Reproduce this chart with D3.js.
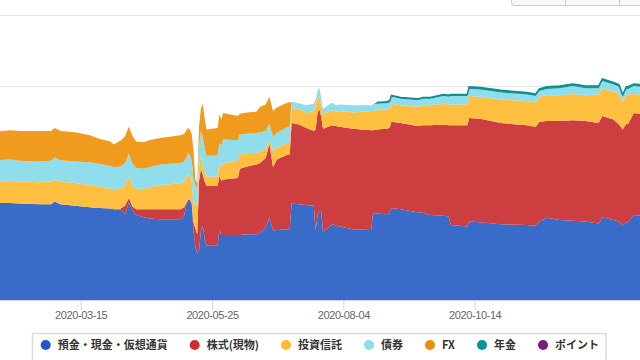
<!DOCTYPE html>
<html><head><meta charset="utf-8">
<script src="https://cdn.jsdelivr.net/npm/d3@7"></script>
<style>body{margin:0;background:#fff;overflow:hidden}svg{display:block}</style>
</head><body><svg id="c" width="640" height="360"></svg>
<script>
// ---- data (values in 万円) ----
const dates = ["2020-01-30","2020-02-06","2020-02-11","2020-02-22","2020-02-28","2020-03-01","2020-03-04","2020-03-12","2020-03-20","2020-03-25",
"2020-03-31","2020-04-02","2020-04-05","2020-04-06","2020-04-08","2020-04-10","2020-04-12","2020-04-14","2020-04-18","2020-04-21",
"2020-04-27","2020-05-02","2020-05-08","2020-05-10","2020-05-11","2020-05-12","2020-05-13","2020-05-14","2020-05-15","2020-05-16",
"2020-05-17","2020-05-18","2020-05-19","2020-05-20","2020-05-21","2020-05-22","2020-05-28","2020-05-29","2020-05-30","2020-05-31",
"2020-06-08","2020-06-09","2020-06-13","2020-06-18","2020-06-20","2020-06-23","2020-06-25","2020-06-27","2020-06-29","2020-07-05",
"2020-07-06","2020-07-07","2020-07-11","2020-07-15","2020-07-19","2020-07-20","2020-07-21","2020-07-22","2020-07-23","2020-07-24",
"2020-07-29","2020-07-31","2020-08-02","2020-08-09","2020-08-19","2020-08-20","2020-08-22","2020-08-27","2020-08-29","2020-08-30",
"2020-09-04","2020-09-13","2020-09-16","2020-09-20","2020-09-27","2020-09-30","2020-10-01","2020-10-10","2020-10-11","2020-10-17",
"2020-10-28","2020-11-11","2020-11-16","2020-11-18","2020-11-22","2020-11-29","2020-12-06","2020-12-13","2020-12-20","2020-12-22",
"2020-12-28","2020-12-31","2021-01-02","2021-01-04","2021-01-05","2021-01-08","2021-01-11","2021-01-14"];
const deposit = [137,137,136,135,135,139,135,133,131,130, 129,128,128,127,121,138,126,120,117,115, 114,114,114,120,133,141,141,136,98,76,
66,70,98,105,87,77,77,99,92,92, 92,92,93,93,95,102,117,98,99,100, 100,136,135,134,133,98,119,126,125,96,
107,105,104,100,99,122,122,121,122,130, 128,124,123,120,119,118,106,104,111,110, 107,106,105,111,116,113,112,111,108,117,
113,111,105,110,110,120,119,119];
const stocks = [0,0,0,0,0,0,0,0,0,0, 0,0,0,3,12,6,6,8,11,13, 14,14,14,11,4,0,0,1,11,25,
27,98,87,71,80,84,84,76,76,78, 80,93,95,98,98,98,103,89,99,105, 105,113,112,108,105,142,144,143,133,145,
139,140,140,141,140,117,118,120,120,121, 121,121,123,126,128,128,140,142,145,145, 142,140,139,140,136,139,141,141,141,142,
141,136,135,138,138,143,143,143];
const funds = [30,31,31,31,32,30,32,32,31,30, 28,28,29,28,29,30,29,29,29,31, 34,35,37,35,34,37,34,31,24,36,
39,21,18,15,13,13,13,16,20,23, 24,20,19,16,16,12,5,23,16,16, 16,21,22,21,28,35,21,18,17,20,
21,20,22,23,27,27,27,27,27,25, 25,27,28,28,29,29,29,29,31,31, 33,34,34,35,36,36,37,36,40,39,
39,44,39,40,41,27,27,27];
const bonds = [30,30,29,29,29,32,30,30,32,32, 32,31,31,31,31,32,31,29,28,28, 29,29,28,29,29,29,29,28,38,25,
25,28,35,39,35,29,29,30,29,33, 29,28,27,28,27,26,23,19,21,23, 23,9,8,11,10,7,10,12,10,8,
11,9,9,10,8,9,9,9,9,10, 9,9,9,9,11,11,12,12,10,10, 10,9,9,8,9,10,11,10,9,10,
10,9,7,9,8,11,11,11];
const fx = [40,41,42,43,42,41,41,41,38,35, 34,32,36,36,38,38,39,37,37,38, 37,38,39,39,38,35,36,38,39,8,
8,28,31,46,41,37,39,40,37,37, 34,29,30,30,36,37,38,37,36,34, 34,0,0,0,0,0,0,0,0,0,
0,0,0,0,0,0,0,0,0,0, 0,0,0,0,0,0,0,0,0,0, 0,0,0,0,0,0,0,0,0,0,
0,0,0,0,0,0,0,0];
const pension = [0,0,0,0,0,0,0,0,0,0, 0,0,0,0,0,0,0,0,0,0, 0,0,0,0,0,0,0,0,0,0,
0,0,0,0,0,0,0,0,0,0, 0,0,0,0,0,0,0,0,0,0, 0,0,0,0,0,0,0,0,0,0,
0,0,0,0,0,0,2,2,2,2, 2,2,2,2,2,2,2,2,3,3, 3,3,3,3,3,3,3,3,3,3,
3,3,3,3,3,3,3,3];
const points = dates.map(() => 0);
const seriesNames = ["預金・現金・仮想通貨","株式(現物)","投資信託","債券","FX","年金","ポイント"];
const tickLabels = ["2020-03-15","2020-05-25","2020-08-04","2020-10-14"];
const gridValues = [300, 400];

// ---- styles ----
const areaColors = ["#386cc8","#cc3e40","#ffc042","#90deec","#f09a1e","#169698","#7b1f7f"];
const legendColors = ["#1f56c8","#d02a2a","#ffbc2e","#8edbec","#f28c00","#009697","#7a1a7c"];

const svg = d3.select("#c");
const W = 640, H = 360;
const parse = d3.utcParse("%Y-%m-%d");

const seriesVals = [deposit, stocks, funds, bonds, fx, pension, points];
const rows = dates.map((d, i) => {
  const r = {date: parse(d)};
  seriesNames.forEach((k, j) => r[k] = seriesVals[j][i]);
  return r;
});

const x = d3.scaleUtc()
  .domain([parse("2020-03-15"), parse("2020-10-14")])
  .range([80.7, 474.7]);
const y = d3.scaleLinear().domain([0, 400]).range([300.5, 15.5]);

// top button group (cropped)
const bg = svg.append("g");
bg.append("rect").attr("x", 511.5).attr("y", -10).attr("width", 150).attr("height", 15.5)
  .attr("rx", 3).attr("fill", "#f7f7f7").attr("stroke", "#cccccc");
[565.5, 619.5].forEach(xx => bg.append("line").attr("x1", xx).attr("x2", xx)
  .attr("y1", 0).attr("y2", 5).attr("stroke", "#cccccc"));

// grid
svg.append("g").selectAll("line").data(gridValues).join("line")
  .attr("x1", 0).attr("x2", W)
  .attr("y1", d => Math.floor(y(d)) + 0.5).attr("y2", d => Math.floor(y(d)) + 0.5)
  .attr("stroke", "#e6e6e6").attr("stroke-width", 1);

svg.append("clipPath").attr("id", "plot").append("rect")
  .attr("x", 0).attr("y", 15).attr("width", W).attr("height", 285.5);

const layers = d3.stack().keys(seriesNames)(rows);
const area = d3.area().x(d => x(d.data.date)).y0(d => y(d[0])).y1(d => y(d[1]));
const gA = svg.append("g").attr("clip-path", "url(#plot)");
gA.selectAll("path.a").data(layers).join("path").attr("class", "a")
  .attr("d", area).attr("fill", (d, i) => areaColors[i]);

// pension top line
const pIdx = seriesNames.indexOf("年金");
const line = d3.line().defined(d => d.data["年金"] > 0)
  .x(d => x(d.data.date)).y(d => y(d[1]));
gA.append("path").attr("d", line(layers[pIdx])).attr("fill", "none")
  .attr("stroke", "#0f8c8e").attr("stroke-width", 1.5);

// x axis
svg.append("line").attr("x1", 0).attr("x2", W).attr("y1", 300.5).attr("y2", 300.5)
  .attr("stroke", "#ccd6eb");
const ax = svg.append("g").attr("transform", "translate(0,300)")
  .call(d3.axisBottom(x).tickValues(tickLabels.map(parse))
    .tickFormat(d3.utcFormat("%Y-%m-%d")).tickSize(10).tickPadding(1));
ax.select(".domain").remove();
ax.selectAll(".tick line").attr("stroke", "#ccd6eb");
ax.selectAll(".tick text").attr("fill", "#666666")
  .style("font-family", "'Liberation Sans', Arial, sans-serif")
  .style("font-size", "11px").style("letter-spacing", "-0.4px");

// legend
const lg = svg.append("g");
const box = lg.append("rect").attr("x", 32.5).attr("y", 333.5).attr("height", 60)
  .attr("fill", "#fff").attr("stroke", "#dcdcdc").attr("stroke-width", 1.5);
let cx = 40.7;
seriesNames.forEach((name, i) => {
  lg.append("circle").attr("cx", cx + 5).attr("cy", 345).attr("r", 5).attr("fill", legendColors[i]);
  const t = lg.append("text").attr("x", cx + 17).attr("y", 349.3).text(name)
    .attr("fill", "#333333")
    .style("font-family", "'Noto Sans CJK JP', sans-serif")
    .style("font-size", "11px").style("font-weight", "bold");
  const w = t.node().getComputedTextLength();
  if (i === seriesNames.length - 1) box.attr("width", cx + 17 + w + 7 - 32.5);
  cx = cx + 17 + w + 22;
});
</script>
</body></html>
